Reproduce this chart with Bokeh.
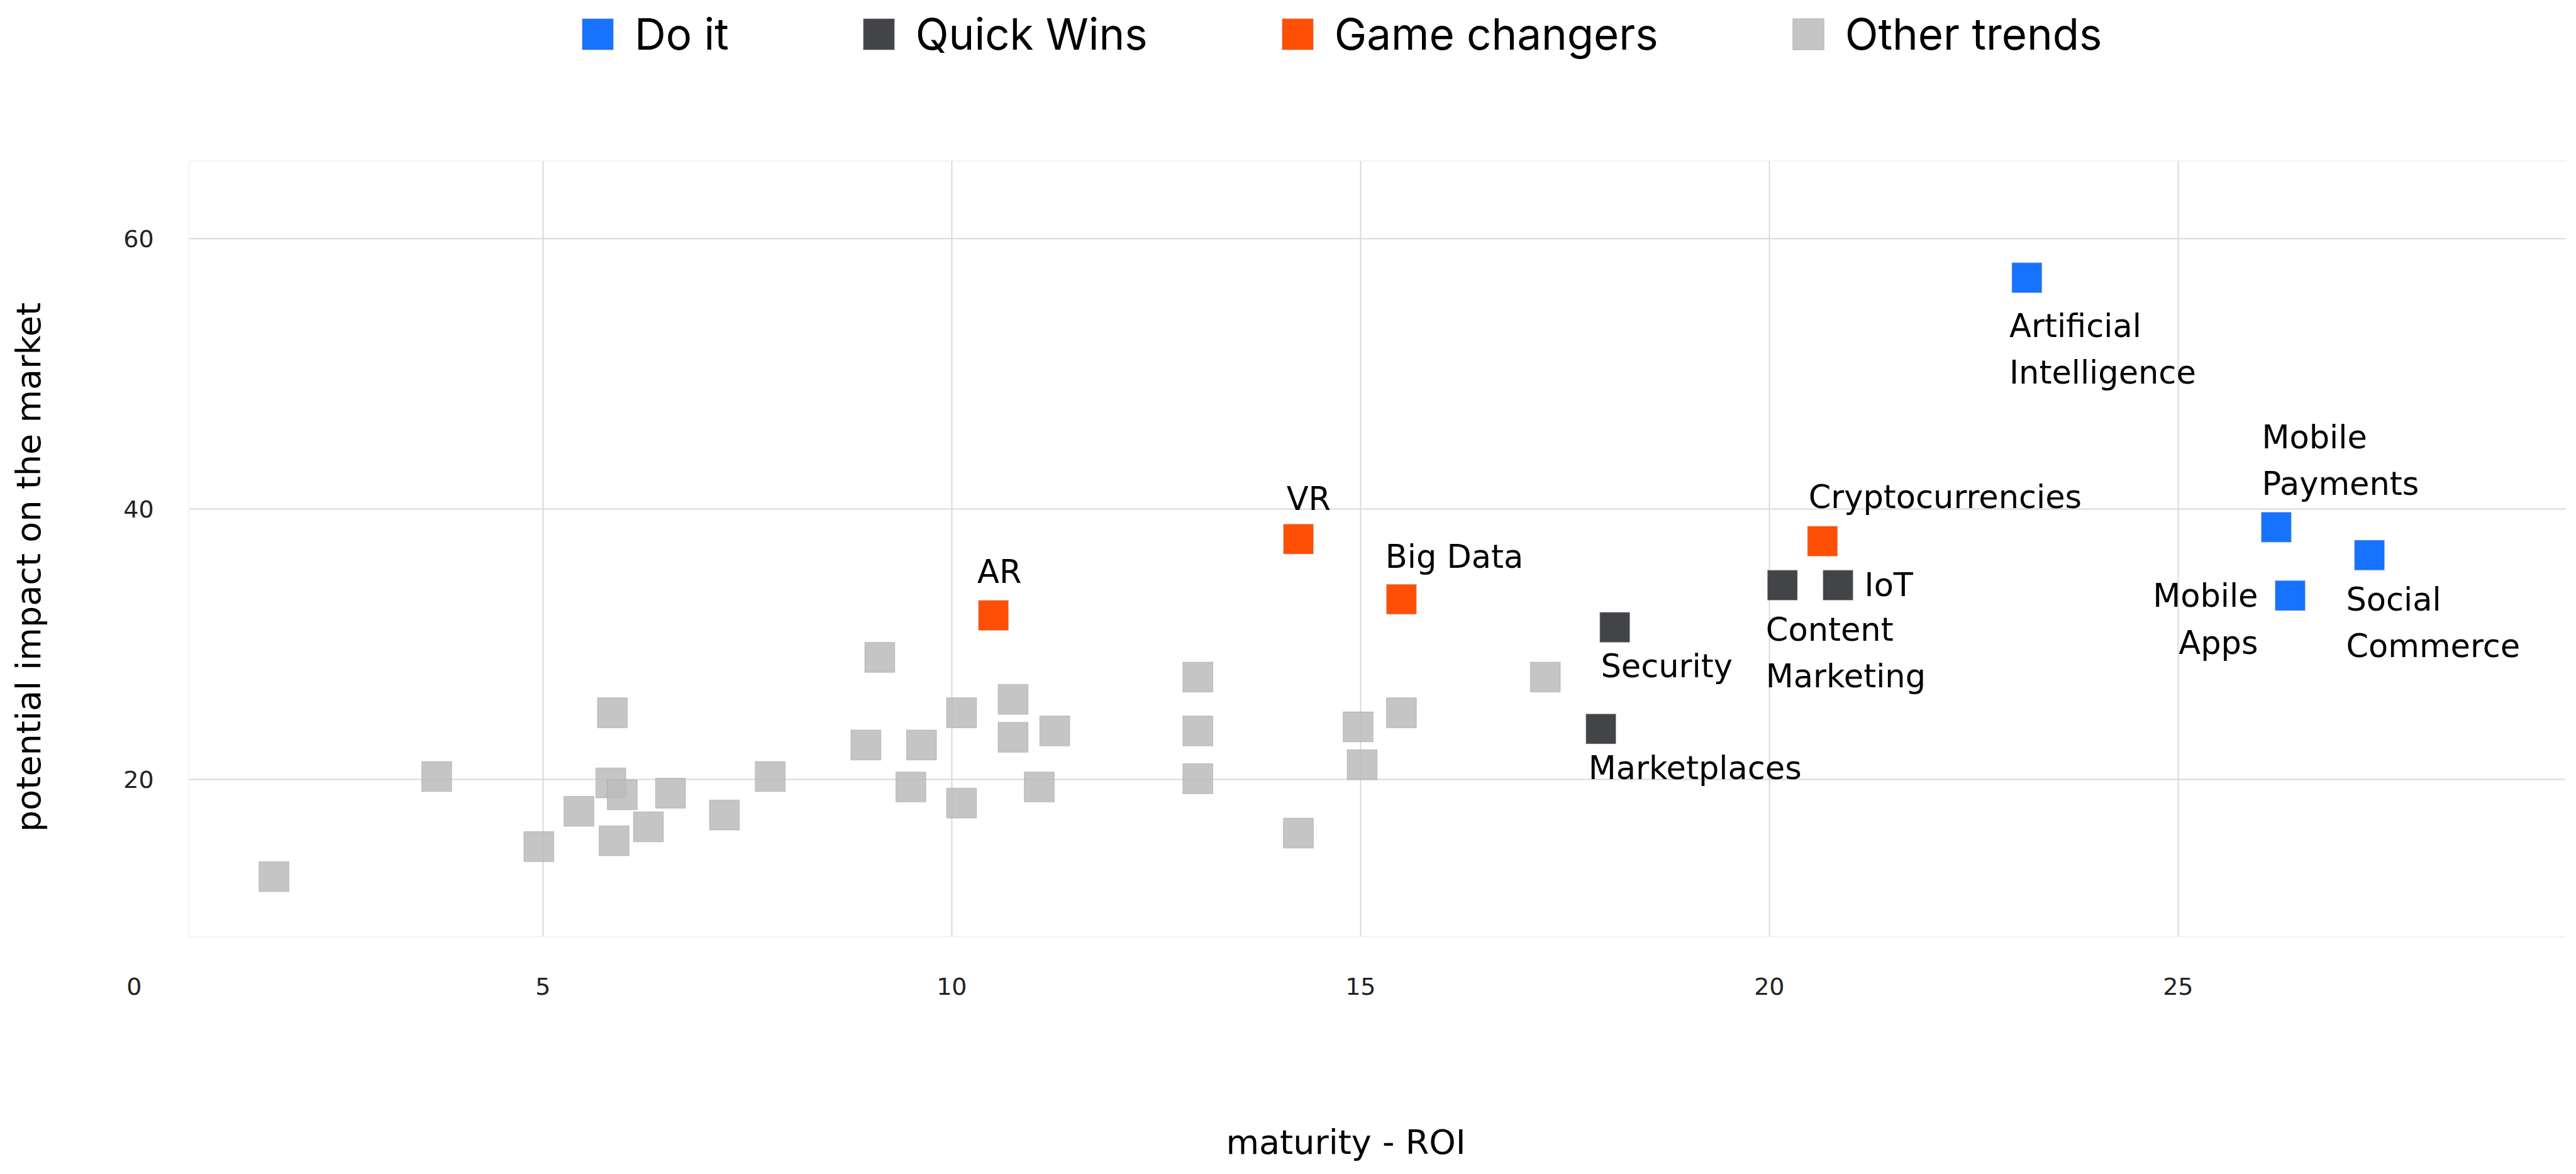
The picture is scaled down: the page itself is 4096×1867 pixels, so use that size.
from bokeh.plotting import figure
from bokeh.models import (ColumnDataSource, FixedTicker, Legend, LegendItem,
                          BoxAnnotation, Range1d)
from bokeh.core.properties import value
from bokeh.embed import file_html
from bokeh.resources import INLINE

S = 0.994  # scale from reference pixels

# ---------------- data ----------------
do_it_names = ["Artificial\nIntelligence", "Mobile\nPayments", "Mobile\nApps", "Social\nCommerce"]
do_it_x = [23.15, 26.20, 26.37, 27.34]
do_it_y = [57.09, 38.66, 33.60, 36.59]

quick_names = ["Security", "Marketplaces", "Content\nMarketing", "IoT"]
quick_x = [18.11, 17.94, 20.16, 20.84]
quick_y = [31.26, 23.75, 34.37, 34.37]

game_names = ["AR", "VR", "Big Data", "Cryptocurrencies"]
game_x = [10.51, 14.24, 15.50, 20.65]
game_y = [32.14, 37.78, 33.33, 37.62]

other_x = [1.71, 3.70, 4.95, 5.44, 5.85, 5.83, 5.97, 5.87, 6.29, 6.56,
           7.22, 7.78, 9.12, 8.95, 9.63, 9.50, 10.12, 10.12, 10.75, 10.75,
           11.26, 11.07, 13.01, 13.01, 13.01, 14.24, 14.97, 15.02, 15.50, 17.26]
other_y = [12.83, 20.23, 15.05, 17.66, 24.94, 19.76, 18.88, 15.48, 16.51, 19.00,
           17.39, 20.23, 29.04, 22.56, 22.56, 19.46, 24.94, 18.27, 25.93, 23.13,
           23.60, 19.46, 27.58, 23.60, 20.07, 16.05, 23.90, 21.10, 24.94, 27.58]

series_names = ["Do it", "Quick Wins", "Game changers", "Other trends"]
x_ticks = [0, 5, 10, 15, 20, 25]
x_grid_ticks = [5, 10, 15, 20, 25]
y_ticks = [20, 40, 60]
x_title = "maturity - ROI"
y_title = "potential impact on the market"

# ---------------- styles ----------------
BLUE, DARK, ORANGE, GRAY = "#1672FF", "#434448", "#FF4F04", "#BBBBBB"
GRID = "#d9d9d9"
BORDER = "#dcdcdc"
LABEL_FONT = "DejaVu Sans"
LEGEND_FONT = "Inter"

# name -> (align, baseline, dx, dy) in reference px (dy positive = down)
LABEL_STYLE = {
    "AR": ("left", "bottom", -25.7, -40.0),
    "VR": ("left", "bottom", -19.0, -34.4),
    "Big Data": ("left", "bottom", -25.7, -38.6),
    "Cryptocurrencies": ("left", "bottom", -22.3, -41.0),
    "Mobile\nPayments": ("left", "bottom", -23.0, -39.4),
    "Security": ("left", "top", -22.3, 32.5),
    "Marketplaces": ("left", "top", -20.0, 33.3),
    "Content\nMarketing": ("left", "top", -26.5, 41.6),
    "Artificial\nIntelligence": ("left", "top", -28.0, 47.4),
    "Social\nCommerce": ("left", "top", -37.4, 41.5),
    "Mobile\nApps": ("right", "top", -51.3, -29.0),
    "IoT": ("left", "middle", 42.3, 0.0),
}

# canvas = frame; the visible plot box is drawn inside it
W, H = 4080, 1851
X0, X1 = -1.637, 29.747
Y0, Y1 = -8.422, 77.593
BOX_L = 0.672                       # left edge of the plot box (data units)
BOX_B, BOX_T = 8.40, 65.72          # plot box bottom/top (data units)

p = figure(width=W, height=H, x_range=Range1d(X0, X1), y_range=Range1d(Y0, Y1),
           output_backend="svg", toolbar_location=None,
           min_border_left=0, min_border_right=0,
           min_border_top=0, min_border_bottom=0)
p.outline_line_color = None
p.background_fill_color = "white"
p.border_fill_color = "white"

# grid
p.xgrid.ticker = FixedTicker(ticks=x_grid_ticks)
p.ygrid.ticker = FixedTicker(ticks=y_ticks)
for g in (p.xgrid, p.ygrid):
    g.grid_line_color = GRID
    g.grid_line_width = 2

# keep the grid inside the plot box, then draw the box border
for kw in (dict(right=BOX_L), dict(bottom=BOX_T), dict(top=BOX_B)):
    p.add_layout(BoxAnnotation(fill_color="white", fill_alpha=1.0,
                               line_color=None, level="underlay", **kw))
p.add_layout(BoxAnnotation(left=BOX_L, right=X1 + 5, bottom=BOX_B, top=BOX_T,
                           fill_color=None, fill_alpha=0, line_color=BORDER,
                           line_width=2.5))

# axes
for ax in (p.xaxis, p.yaxis):
    ax.major_tick_line_color = None
    ax.minor_tick_line_color = None
    ax.major_tick_out = 0
    ax.major_tick_in = 0
    ax.minor_tick_out = 0
    ax.minor_tick_in = 0
    ax.axis_line_color = None
    ax.major_label_text_font = LABEL_FONT
    ax.major_label_text_font_size = "38px"
    ax.major_label_text_color = "#222222"
    ax.axis_label_text_font = LABEL_FONT
    ax.axis_label_text_font_size = "54px"
    ax.axis_label_text_font_style = "normal"
    ax.axis_label_text_color = "#000000"

p.xaxis.ticker = FixedTicker(ticks=x_ticks)
p.yaxis.ticker = FixedTicker(ticks=y_ticks)
p.xaxis.fixed_location = BOX_B
p.yaxis.fixed_location = BOX_L
p.xaxis.bounds = (-0.05, 29.69)
p.yaxis.bounds = (10.0, 61.4)
p.xaxis.major_label_standoff = 66
p.yaxis.major_label_standoff = 56
p.xaxis.axis_label = x_title
p.yaxis.axis_label = y_title
p.xaxis.axis_label_standoff = 199
p.yaxis.axis_label_standoff = 116

SQ = 48 * S
common = dict(width=SQ, height=SQ, width_units="screen", height_units="screen")
r_other = p.rect(x=other_x, y=other_y, fill_color=GRAY, fill_alpha=0.85,
                 line_color="#999999", line_alpha=0.5, line_width=1, **common)
r_game = p.rect(x=game_x, y=game_y, fill_color=ORANGE, line_color="#bbbbbb",
                line_alpha=0.6, line_width=1, **common)
r_quick = p.rect(x=quick_x, y=quick_y, fill_color=DARK, line_color="#bbbbbb",
                 line_alpha=0.6, line_width=1, **common)
r_do = p.rect(x=do_it_x, y=do_it_y, fill_color=BLUE, line_color="#bbbbbb",
              line_alpha=0.6, line_width=1, **common)

# point labels
groups = {}
for names, xs, ys in ((do_it_names, do_it_x, do_it_y),
                      (quick_names, quick_x, quick_y),
                      (game_names, game_x, game_y)):
    for n, x, y in zip(names, xs, ys):
        a, b, dx, dy = LABEL_STYLE[n]
        d = groups.setdefault((a, b), dict(x=[], y=[], t=[], dx=[], dy=[]))
        d["x"].append(x); d["y"].append(y); d["t"].append(n)
        d["dx"].append(dx * S); d["dy"].append(dy * S)

for (a, b), d in groups.items():
    p.text(x="x", y="y", text="t", x_offset="dx", y_offset="dy",
           source=ColumnDataSource(d), text_align=a, text_baseline=b,
           text_font=value(LABEL_FONT), text_font_size="51px",
           text_color="#000000", text_line_height=1.26)

legend = Legend(items=[LegendItem(label=series_names[0], renderers=[r_do]),
                       LegendItem(label=series_names[1], renderers=[r_quick]),
                       LegendItem(label=series_names[2], renderers=[r_game]),
                       LegendItem(label=series_names[3], renderers=[r_other])],
                orientation="horizontal", location=(919, 1755),
                padding=0, margin=0, spacing=207,
                glyph_width=62, glyph_height=62, label_standoff=28,
                label_height=62,
                label_text_font=LEGEND_FONT, label_text_font_size="69px",
                label_text_color="#000000",
                border_line_color=None, background_fill_alpha=0)
p.add_layout(legend)

open("out.html", "w").write(file_html(p, INLINE))
